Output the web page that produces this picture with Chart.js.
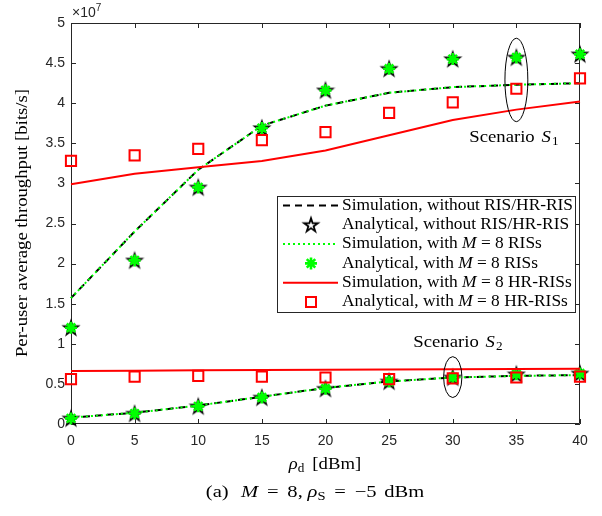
<!DOCTYPE html>
<html>
<head>
<meta charset="utf-8">
<script src="https://cdn.jsdelivr.net/npm/chart.js@4.4.1/dist/chart.umd.min.js"></script>
<style>
  html, body { margin: 0; padding: 0; background: #fff; }
  canvas { display: block; }
</style>
</head>
<body>
<canvas id="c" width="602" height="516"></canvas>
<script>
// Transmit power rho_d [dBm]
const powerDbm = [0, 5, 10, 15, 20, 25, 30, 35, 40];

// Per-user average throughput, in units of 1e7 bits/s
// Scenario S1
const s1SimNoRis = [1.57, 2.40, 3.17, 3.72, 3.97, 4.13, 4.20, 4.23, 4.25];
const s1AnaNoRis = [1.20, 2.04, 2.95, 3.69, 4.16, 4.43, 4.55, 4.57, 4.61];
const s1SimRis   = [1.57, 2.40, 3.17, 3.72, 3.97, 4.13, 4.20, 4.23, 4.25];
const s1AnaRis   = [1.20, 2.04, 2.95, 3.69, 4.16, 4.43, 4.55, 4.57, 4.61];
const s1SimHr    = [2.99, 3.12, 3.20, 3.28, 3.41, 3.60, 3.79, 3.92, 4.02];
const s1AnaHr    = [3.28, 3.35, 3.43, 3.54, 3.64, 3.88, 4.01, 4.18, 4.31];
// Scenario S2
const s2SimNoRis = [0.08, 0.14, 0.23, 0.34, 0.45, 0.53, 0.58, 0.60, 0.61];
const s2AnaNoRis = [0.07, 0.13, 0.22, 0.33, 0.44, 0.53, 0.58, 0.62, 0.63];
const s2SimRis   = [0.08, 0.14, 0.23, 0.34, 0.45, 0.53, 0.58, 0.60, 0.61];
const s2AnaRis   = [0.07, 0.13, 0.22, 0.33, 0.44, 0.53, 0.58, 0.62, 0.63];
const s2SimHr    = [0.66, 0.665, 0.67, 0.672, 0.675, 0.68, 0.683, 0.686, 0.69];
const s2AnaHr    = [0.56, 0.59, 0.60, 0.59, 0.58, 0.56, 0.57, 0.58, 0.59];

// Axis ticks
const xTicks = [0, 5, 10, 15, 20, 25, 30, 35, 40];
const yTicks = [0, 0.5, 1, 1.5, 2, 2.5, 3, 3.5, 4, 4.5, 5];
const yTickLabels = ['0', '0.5', '1', '1.5', '2', '2.5', '3', '3.5', '4', '4.5', '5'];

// Scenario markers: ellipse centre/half-extent and label anchor (data units)
const s1Ellipse = [35, 4.29, 0.9, 0.52];
const s2Ellipse = [30, 0.585, 0.72, 0.255];
const s1LabelAt = [31.3, 3.57];
const s2LabelAt = [26.9, 1.02];

const SERIF = '"Liberation Serif", "DejaVu Serif", serif';
const SANS = '"Liberation Sans", Arial, sans-serif';
const STRETCH = 1.1;   // widen the serif face a little
const GREEN = '#00ff00';
const RED = '#ff0000';

// Open pentagram marker
function makePentagram(R, lw) {
  const size = Math.ceil(2 * R + 2 * lw + 2);
  const cv = document.createElement('canvas');
  cv.width = size; cv.height = size;
  const g = cv.getContext('2d');
  const c = size / 2, r = R * 0.382;
  g.beginPath();
  for (let i = 0; i < 10; i++) {
    const a = -Math.PI / 2 + i * Math.PI / 5;
    const rr = i % 2 === 0 ? R : r;
    const px = c + rr * Math.cos(a), py = c + rr * Math.sin(a) + 0.6;
    if (i === 0) g.moveTo(px, py); else g.lineTo(px, py);
  }
  g.closePath();
  g.lineJoin = 'miter';
  g.strokeStyle = '#000';
  g.lineWidth = lw;
  g.stroke();
  return cv;
}
const pentagram = makePentagram(7.2, 1.8);

function pts(ys) { return powerDbm.map((x, i) => ({ x, y: ys[i] })); }

function simLine(data, color, dash, width) {
  return { data: pts(data), showLine: true, borderColor: color, borderWidth: width,
           borderDash: dash, pointRadius: 0, pointHoverRadius: 0, tension: 0, clip: false, fill: false };
}
function marker(data, style, color, radius, width) {
  return { data: pts(data), showLine: false, pointStyle: style, pointRadius: radius,
           pointHoverRadius: radius, borderColor: color, backgroundColor: 'rgba(0,0,0,0)',
           pointBorderWidth: width, borderWidth: width, clip: false };
}

const layers = [
  simLine(s1SimNoRis, '#000', [7, 5], 2),
  simLine(s2SimNoRis, '#000', [7, 5], 2),
  marker(s1AnaNoRis, pentagram, '#000', 7, 1),
  marker(s2AnaNoRis, pentagram, '#000', 7, 1),
  simLine(s1SimRis, GREEN, [2, 3], 2),
  simLine(s2SimRis, GREEN, [2, 3], 2),
  marker(s1AnaRis, 'star', GREEN, 6, 2.6),
  marker(s2AnaRis, 'star', GREEN, 6, 2.6),
  simLine(s1SimHr, RED, [], 2),
  simLine(s2SimHr, RED, [], 2),
  marker(s1AnaHr, 'rect', RED, 7.2, 2),
  marker(s2AnaHr, 'rect', RED, 7.2, 2)
];
// later entries are painted on top
layers.forEach((d, i) => { d.order = layers.length - i; });

// Mixed-style text: segments of [text, style] with style '', 'i' (italic),
// 'sub' (subscript) or 'gap' (text is a pixel width of extra space)
function segFont(style, size) {
  if (style === 'i') return 'italic ' + size + 'px ' + SERIF;
  if (style === 'sub') return Math.round(size * 0.72) + 'px ' + SERIF;
  return size + 'px ' + SERIF;
}
function segWidth(ctx, t, s, size) {
  if (s === 'gap') return t;
  ctx.font = segFont(s, size);
  return ctx.measureText(t).width;
}
function richWidth(ctx, segs, size, k) {
  let w = 0;
  segs.forEach(([t, s]) => { w += segWidth(ctx, t, s, size); });
  return w * k;
}
function drawRich(ctx, segs, x, y, size, align, k = STRETCH) {
  const w = richWidth(ctx, segs, size, k);
  const sx = align === 'center' ? x - w / 2 : (align === 'right' ? x - w : x);
  ctx.save();
  ctx.translate(sx, y);
  ctx.scale(k, 1);
  ctx.textBaseline = 'middle';
  ctx.textAlign = 'left';
  let cx = 0;
  segs.forEach(([t, s]) => {
    if (s !== 'gap') {
      ctx.font = segFont(s, size);
      ctx.fillText(t, cx, s === 'sub' ? size * 0.25 : 0);
    }
    cx += segWidth(ctx, t, s, size);
  });
  ctx.restore();
}

const frame = {
  id: 'frame',
  beforeDatasetsDraw(chart) {
    const { ctx, chartArea: a, scales: { x, y } } = chart;
    ctx.save();
    ctx.lineWidth = 1;
    ctx.strokeStyle = '#262626';
    // box
    ctx.beginPath();
    ctx.moveTo(a.left + 0.5, a.top + 0.5);
    ctx.lineTo(a.right - 0.5, a.top + 0.5);
    ctx.lineTo(a.right - 0.5, a.bottom - 0.5);
    ctx.lineTo(a.left + 0.5, a.bottom - 0.5);
    ctx.closePath();
    ctx.stroke();
    // inward ticks on all four sides
    const tl = 5;
    ctx.beginPath();
    xTicks.forEach(v => {
      const px = Math.round(x.getPixelForValue(v)) + 0.5;
      ctx.moveTo(px, a.bottom); ctx.lineTo(px, a.bottom - tl);
      ctx.moveTo(px, a.top); ctx.lineTo(px, a.top + tl);
    });
    yTicks.forEach(v => {
      const py = Math.round(y.getPixelForValue(v)) + 0.5;
      ctx.moveTo(a.left, py); ctx.lineTo(a.left + tl, py);
      ctx.moveTo(a.right, py); ctx.lineTo(a.right - tl, py);
    });
    ctx.stroke();
    // tick labels
    ctx.fillStyle = '#262626';
    ctx.font = '14px ' + SANS;
    ctx.textAlign = 'center';
    ctx.textBaseline = 'top';
    xTicks.forEach(v => ctx.fillText(String(v), x.getPixelForValue(v), a.bottom + 10));
    ctx.textAlign = 'right';
    ctx.textBaseline = 'middle';
    yTicks.forEach((v, i) => ctx.fillText(yTickLabels[i], a.left - 6, y.getPixelForValue(v)));
    // exponent
    ctx.textAlign = 'left';
    ctx.font = '14px ' + SANS;
    ctx.fillText('\u00d710', a.left + 1, a.top - 10);
    const ew = ctx.measureText('\u00d710').width;
    ctx.font = '10px ' + SANS;
    ctx.fillText('7', a.left + 1 + ew, a.top - 15);
    // axis titles
    ctx.fillStyle = '#000';
    drawRich(ctx, [['\u03c1', 'i'], ['d', 'sub'], [3, 'gap'], [' [dBm]', '']], 325, 465, 17, 'center');
    ctx.save();
    ctx.translate(23, 223);
    ctx.rotate(-Math.PI / 2);
    drawRich(ctx, [['Per-user average throughput [bits/s]', '']], 0, 0, 17, 'center');
    ctx.restore();
    // caption
    drawRich(ctx, [['(a)', ''], [6, 'gap'], [' ', ''], ['M', 'i'], [3, 'gap'], [' = ', ''], [3, 'gap'], ['8,', ''], [4, 'gap'],
                   ['\u03c1', 'i'], ['S', 'sub'], [3, 'gap'], [' = ', ''], [3, 'gap'], ['\u22125', ''], [2, 'gap'], [' dBm', '']],
             315, 493, 17, 'center', 1.21);
    ctx.restore();
  },
  afterDatasetsDraw(chart) {
    const { ctx, scales: { x, y } } = chart;
    ctx.save();
    // scenario ellipses
    ctx.strokeStyle = '#000';
    ctx.lineWidth = 1;
    [s1Ellipse, s2Ellipse].forEach(([cx, cy, dx, dy]) => {
      const px = x.getPixelForValue(cx), py = y.getPixelForValue(cy);
      const rx = Math.abs(x.getPixelForValue(cx + dx) - px);
      const ry = Math.abs(y.getPixelForValue(cy + dy) - py);
      ctx.beginPath();
      ctx.ellipse(px, py, rx, ry, 0, 0, Math.PI * 2);
      ctx.stroke();
    });
    ctx.fillStyle = '#000';
    drawRich(ctx, [['Scenario ', ''], [2, 'gap'], ['S', 'i'], [1, 'gap'], ['1', 'sub']],
      x.getPixelForValue(s1LabelAt[0]), y.getPixelForValue(s1LabelAt[1]), 17, 'left');
    drawRich(ctx, [['Scenario ', ''], [2, 'gap'], ['S', 'i'], [1, 'gap'], ['2', 'sub']],
      x.getPixelForValue(s2LabelAt[0]), y.getPixelForValue(s2LabelAt[1]), 17, 'left');

    // legend
    const L = 277, T = 196, R = 576, B = 313;
    ctx.fillStyle = '#fff';
    ctx.fillRect(L, T, R - L, B - T);
    ctx.strokeStyle = '#262626';
    ctx.strokeRect(L + 0.5, T + 0.5, R - L - 1, B - T - 1);
    const rows = [
      { kind: 'line', color: '#000', dash: [7, 5], text: [['Simulation, without RIS/HR-RIS', '']] },
      { kind: 'pent', text: [['Analytical, without RIS/HR-RIS', '']] },
      { kind: 'line', color: GREEN, dash: [2, 3], text: [['Simulation, with ', ''], ['M', 'i'], [' = 8 RISs', '']] },
      { kind: 'star', text: [['Analytical, with ', ''], ['M', 'i'], [' = 8 RISs', '']] },
      { kind: 'line', color: RED, dash: [], text: [['Simulation, with ', ''], ['M', 'i'], [' = 8 HR-RISs', '']] },
      { kind: 'rect', text: [['Analytical, with ', ''], ['M', 'i'], [' = 8 HR-RISs', '']] }
    ];
    const x0 = 283, x1 = 338, mx = 311, tx = 342;
    rows.forEach((r, i) => {
      const ry = T + 9.5 + i * 19.3;
      ctx.save();
      if (r.kind === 'line') {
        ctx.strokeStyle = r.color; ctx.lineWidth = 2; ctx.setLineDash(r.dash);
        ctx.beginPath(); ctx.moveTo(x0, ry); ctx.lineTo(x1, ry); ctx.stroke();
      } else if (r.kind === 'pent') {
        ctx.drawImage(pentagram, mx - pentagram.width / 2, ry - pentagram.height / 2);
      } else if (r.kind === 'star') {
        ctx.strokeStyle = GREEN; ctx.lineWidth = 2.6;
        const s = 6, d = s * Math.SQRT1_2;
        ctx.beginPath();
        ctx.moveTo(mx - s, ry); ctx.lineTo(mx + s, ry);
        ctx.moveTo(mx, ry - s); ctx.lineTo(mx, ry + s);
        ctx.moveTo(mx - d, ry - d); ctx.lineTo(mx + d, ry + d);
        ctx.moveTo(mx + d, ry - d); ctx.lineTo(mx - d, ry + d);
        ctx.stroke();
      } else if (r.kind === 'rect') {
        ctx.strokeStyle = RED; ctx.lineWidth = 2;
        ctx.strokeRect(mx - 5, ry - 5, 10, 10);
      }
      ctx.restore();
      ctx.fillStyle = '#000';
      drawRich(ctx, r.text, tx, ry, 16, 'left', 1.085);
    });
    ctx.restore();
  }
};

new Chart(document.getElementById('c'), {
  type: 'scatter',
  data: { datasets: layers },
  options: {
    responsive: false,
    animation: false,
    devicePixelRatio: 1,
    layout: { padding: { left: 71, right: 22, top: 23, bottom: 92 } },
    plugins: { legend: { display: false }, tooltip: { enabled: false } },
    events: [],
    scales: {
      x: { type: 'linear', min: 0, max: 40, display: false },
      y: { type: 'linear', min: 0, max: 5, display: false }
    }
  },
  plugins: [frame]
});
</script>
</body>
</html>
